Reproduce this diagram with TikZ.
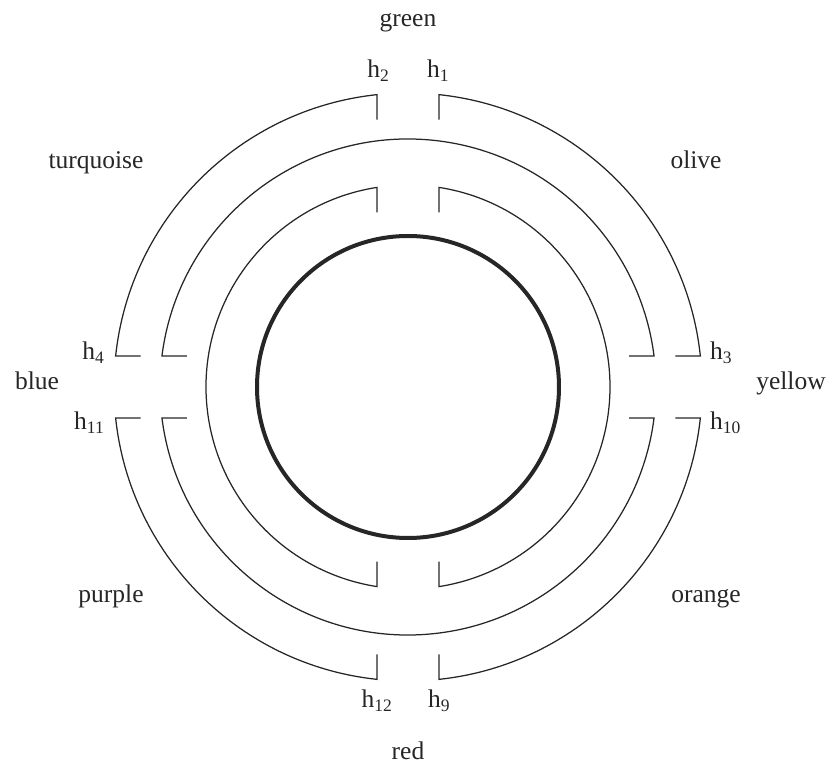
\documentclass[tikz,border=0pt]{standalone}
\usepackage{fontspec}
\setmainfont{Liberation Serif}
\newcommand\hsub[2]{#1\raisebox{-4pt}{\fontsize{17.5}{17.5}\selectfont #2}}
\begin{document}
\begin{tikzpicture}[x=1pt,y=1pt,
  ring/.style={line width=1.25pt,black!85},
  core/.style={line width=4pt,black!85},
  lbl/.style={inner sep=0pt,anchor=base,font=\fontsize{25.5}{30}\selectfont,text=black!85}]
\useasboundingbox (-408,-378) rectangle (420,387);
\pgfmathsetmacro\aA{asin(31/294)}
\pgfmathsetmacro\aB{asin(31/248)}
\pgfmathsetmacro\aC{asin(31/202)}
% outer ring quadrants
\draw[ring] ({90-\aA}:294) ++(0,-25) -- ++(0,25) arc[start angle={90-\aA}, end angle={\aA}, radius=294] -- ++(-25,0);
\draw[ring] ({90+\aA}:294) ++(0,-25) -- ++(0,25) arc[start angle={90+\aA}, end angle={180-\aA}, radius=294] -- ++(25,0);
\draw[ring] ({180+\aA}:294) ++(25,0) -- ++(-25,0) arc[start angle={180+\aA}, end angle={270-\aA}, radius=294] -- ++(0,25);
\draw[ring] ({270+\aA}:294) ++(0,25) -- ++(0,-25) arc[start angle={270+\aA}, end angle={360-\aA}, radius=294] -- ++(-25,0);
% second ring halves
\draw[ring] ({180-\aB}:248) ++(25,0) -- ++(-25,0) arc[start angle={180-\aB}, end angle={\aB}, radius=248] -- ++(-25,0);
\draw[ring] ({180+\aB}:248) ++(25,0) -- ++(-25,0) arc[start angle={180+\aB}, end angle={360-\aB}, radius=248] -- ++(-25,0);
% third ring halves
\draw[ring] ({90-\aC}:202) ++(0,-25) -- ++(0,25) arc[start angle={90-\aC}, end angle={-90+\aC}, radius=202] -- ++(0,25);
\draw[ring] ({90+\aC}:202) ++(0,-25) -- ++(0,25) arc[start angle={90+\aC}, end angle={270-\aC}, radius=202] -- ++(0,25);
% core
\draw[core] (0,0) circle[radius=151];
% labels
\node[lbl] (green) at (0,360) {green};
\node[lbl,anchor=base east] (h2) at (-19,309) {\hsub{h}{2}};
\node[lbl,anchor=base west] (h1) at (19,309) {\hsub{h}{1}};
\node[lbl] (turquoise) at (-312,218) {turquoise};
\node[lbl] (olive) at (288,218) {olive};
\node[lbl,anchor=base east] (h4) at (-304,27) {\hsub{h}{4}};
\node[lbl,anchor=base west] (h3) at (302,27) {\hsub{h}{3}};
\node[lbl] (blue) at (-371,-3) {blue};
\node[lbl] (yellow) at (383,-3) {yellow};
\node[lbl,anchor=base east] (h11) at (-304,-43) {\hsub{h}{11}};
\node[lbl,anchor=base west] (h10) at (302,-43) {\hsub{h}{10}};
\node[lbl] (purple) at (-297,-216) {purple};
\node[lbl] (orange) at (298,-216) {orange};
\node[lbl,anchor=base east] (h12) at (-16,-321) {\hsub{h}{12}};
\node[lbl,anchor=base west] (h9) at (20,-321) {\hsub{h}{9}};
\node[lbl] (red) at (0,-373) {red};
\end{tikzpicture}
\end{document}
